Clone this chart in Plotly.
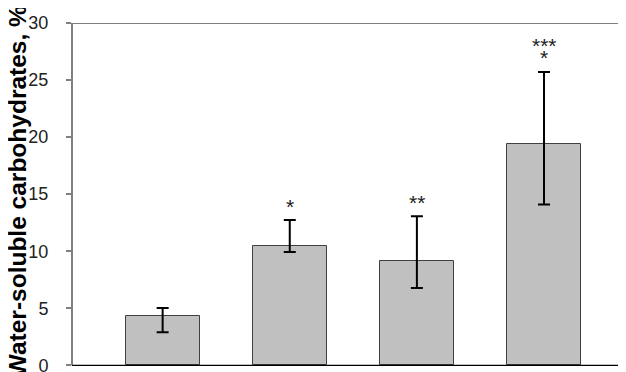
import plotly.graph_objects as go

# ---- data ----
groups = [0, 1, 2, 3]
values = [4.36, 10.48, 9.15, 19.42]
upper = [5.03, 12.73, 13.06, 25.7]
lower = [2.89, 9.93, 6.77, 14.1]
sig_labels = ["", "*", "**", "***<br>*"]
y_ticks = [0, 5, 10, 15, 20, 25, 30]
y_title = "Water-soluble carbohydrates, %"

err_plus = [u - v for u, v in zip(upper, values)]
err_minus = [v - l for v, l in zip(values, lower)]

FONT = "Liberation Sans, Arial, sans-serif"
GREY = "#808080"

fig = go.Figure()
fig.add_trace(go.Bar(
    x=groups, y=values, width=0.583,
    marker=dict(color="#c0c0c0", line=dict(color="#404040", width=1)),
    error_y=dict(type="data", symmetric=False, array=err_plus, arrayminus=err_minus,
                 color="black", thickness=2, width=6),
    showlegend=False,
))

# significance marks (multi-line marks drawn as separate, tightly spaced lines)
for g, lab, u in zip(groups, sig_labels, upper):
    if not lab:
        continue
    parts = lab.split("<br>")
    for i, p in enumerate(parts):
        if len(parts) == 1:
            shift = 14
        else:
            shift = 15 + 12 * (len(parts) - 1 - i)
        fig.add_annotation(
            x=g, y=u, xref="x", yref="y", text=p, showarrow=False,
            xanchor="center", yanchor="middle", yshift=shift,
            font=dict(family=FONT, size=21, color="#222"),
        )

# y title
fig.add_annotation(
    x=-0.098, y=0.522, xref="paper", yref="paper", text="<b>" + y_title + "</b>",
    textangle=-90, showarrow=False, xanchor="center", yanchor="middle",
    font=dict(family=FONT, size=24.5, color="black"),
)

shapes = [
    # y axis line
    dict(type="line", xref="paper", yref="y", x0=0, x1=0, y0=0, y1=30,
         line=dict(color=GREY, width=2)),
    # top border
    dict(type="line", xref="paper", yref="y", x0=0, x1=1, y0=30, y1=30,
         line=dict(color=GREY, width=2)),
    # right border
    dict(type="line", xref="paper", yref="y", x0=1, x1=1, y0=0, y1=30,
         line=dict(color="black", width=2)),
    # zero line
    dict(type="line", xref="paper", yref="y", x0=0, x1=1, y0=0, y1=0,
         line=dict(color="black", width=1.2)),
]

fig.update_layout(
    width=626, height=372,
    margin=dict(l=64, r=1, t=15, b=5),
    plot_bgcolor="white", paper_bgcolor="white",
    shapes=shapes,
    bargap=0,
    xaxis=dict(range=[-0.713, 3.70], showgrid=False, zeroline=False,
               showline=True, linecolor=GREY, linewidth=2,
               ticks="outside", ticklen=5, tickcolor="black", tickwidth=1,
               tickvals=groups, showticklabels=False, fixedrange=True),
    yaxis=dict(range=[-0.85, 30], showgrid=False, zeroline=False, showline=False,
               tickvals=y_ticks, ticks="outside", ticklen=5, tickcolor=GREY, tickwidth=1.5,
               ticklabelstandoff=14,
               tickfont=dict(family=FONT, size=18, color="#222"), fixedrange=True),
)

fig.write_html("out.html")
